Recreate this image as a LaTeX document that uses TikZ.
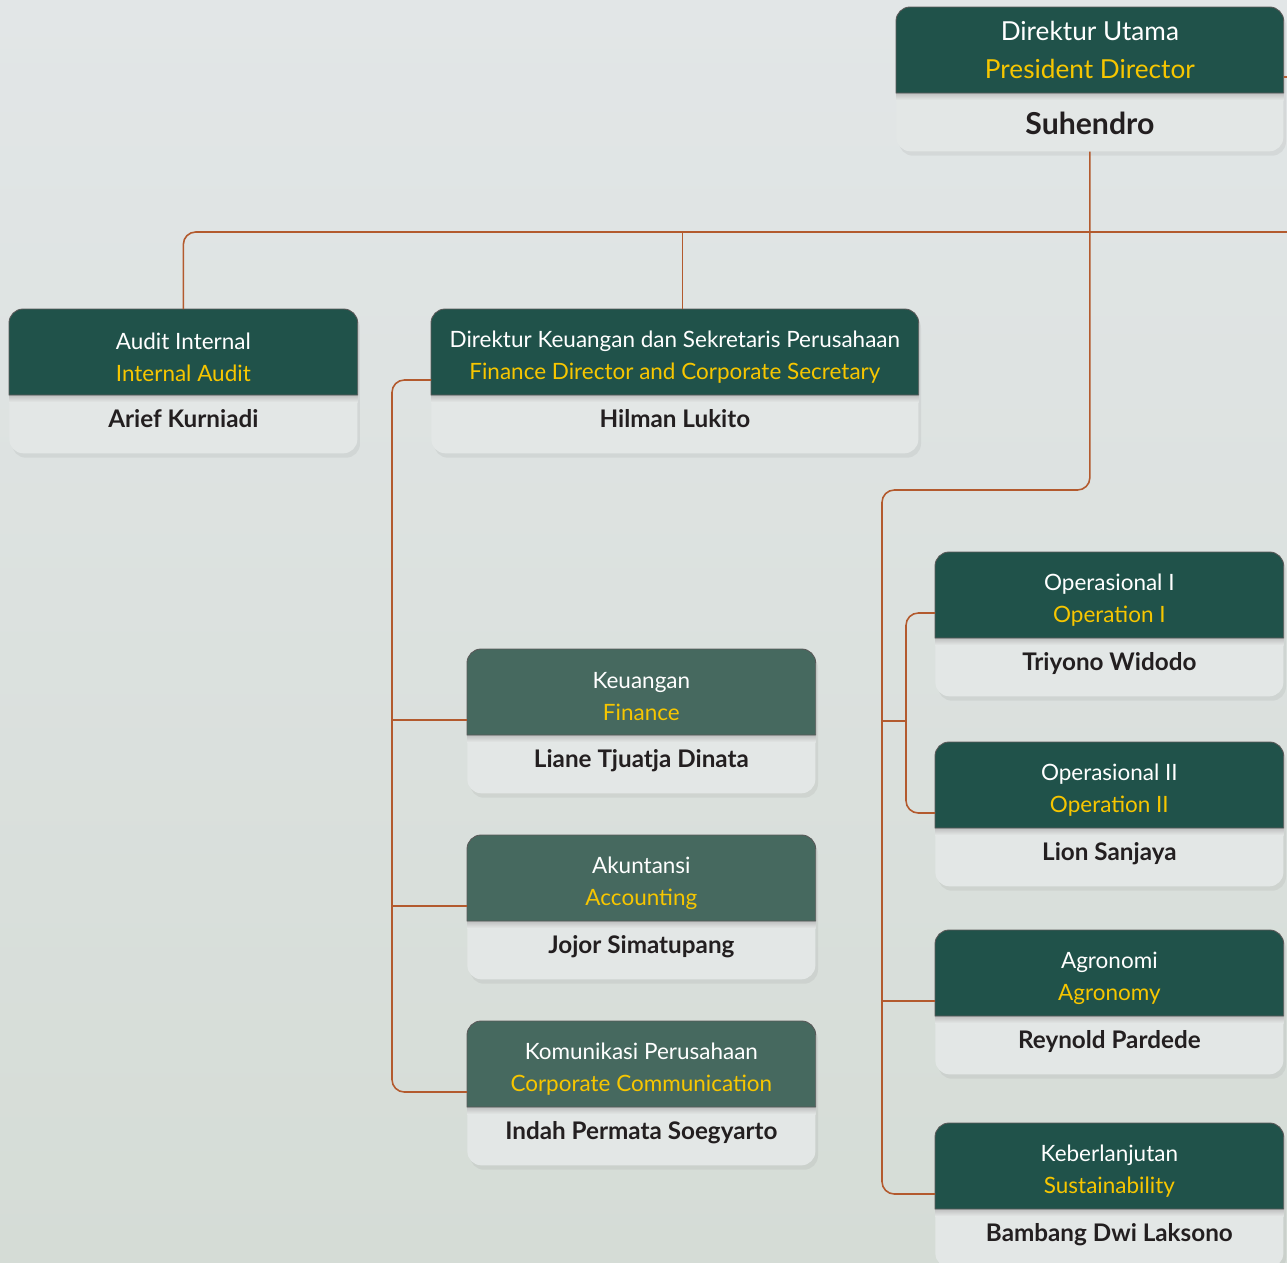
\documentclass[tikz,border=0pt]{standalone}
\usepackage{fontspec}
\setmainfont{Lato}
\usetikzlibrary{calc,shadows}
\definecolor{hdrdark}{HTML}{20524A}
\definecolor{hdrsoft}{HTML}{46695F}
\definecolor{ylw}{HTML}{F7C600}
\definecolor{cbody}{HTML}{E3E7E6}
\definecolor{cname}{HTML}{231F20}
\definecolor{clink}{HTML}{B35A2E}
\definecolor{bgtop}{HTML}{E2E6E7}
\definecolor{bgbot}{HTML}{D5DCD6}
\newcommand{\ttloff}{48}
\newcommand{\whooff}{112}
\newcommand{\orgcard}[8]{%
  \node[card, minimum width=#4*0.02cm] (#1) at (#2,#3) {};
  \shade[sep] ($(#1.north west)+(0,86)$) rectangle ($(#1.north east)+(0,93)$);
  \path[hdr=#5] ($(#1.north west)+(0,86)$) [rounded corners=8pt] -- (#1.north west)
    -- (#1.north east) [sharp corners] -- ($(#1.north east)+(0,86)$) -- cycle;
  \node[ttl] (#1-t) at ($(#1.north)+(0,\ttloff)$) {#6\\\textcolor{ylw}{#7}};
  \node[who] (#1-n) at ($(#1.north)+(0,\whooff)$) {#8};
  \coordinate (#1-in) at ($(#1.north west)+(0,71)$);}
\tikzset{
  card/.style={anchor=north west, fill=cbody, rounded corners=8pt, minimum height=2.88cm,
    inner sep=0pt, drop shadow={opacity=0.12, shadow xshift=1.5pt, shadow yshift=-2.5pt}},
  hdr/.style={fill=#1, draw=black!65, line width=0.5pt},
  sep/.style={top color=black!25, bottom color=cbody},
  ttl/.style={text=white, align=center, font=\fontsize{12.8}{18.2}\selectfont},
  who/.style={text=cname, text height=0.72em, text depth=0pt, font=\fontsize{13.8}{15}\selectfont\bfseries},
  link/.style={draw=clink, line width=0.9pt, rounded corners=7pt},
}

\begin{document}
\begin{tikzpicture}[x=0.02cm, y=-0.02cm]
\useasboundingbox (0,0) rectangle (1287,1262);
\shade[top color=bgtop, bottom color=bgbot] (0,0) rectangle (1287,1262);
%---- top
\begin{scope}[ttl/.append style={font=\fontsize{14.9}{21.5}\selectfont},
              who/.append style={font=\fontsize{17.2}{19}\selectfont\bfseries}]
  \renewcommand{\ttloff}{43}\renewcommand{\whooff}{121}
  \orgcard{pres}{896}{7}{387}{hdrdark}{Direktur Utama}{President Director}{Suhendro}
\end{scope}
%---- second row
\orgcard{audit}{9}{309}{348}{hdrdark}{Audit Internal}{Internal Audit}{Arief Kurniadi}
\orgcard{fin}{431}{309}{487}{hdrdark}{Direktur Keuangan dan Sekretaris Perusahaan}{Finance Director and Corporate Secretary}{Hilman Lukito}
%---- finance column
\orgcard{keu}{467}{649}{348}{hdrsoft}{Keuangan}{Finance}{Liane Tjuatja Dinata}
\orgcard{akt}{467}{835}{348}{hdrsoft}{Akuntansi}{Accounting}{Jojor Simatupang}
\orgcard{kom}{467}{1021}{348}{hdrsoft}{Komunikasi Perusahaan}{Corporate Communication}{Indah Permata Soegyarto}
%---- operations column
\orgcard{op1}{935}{552}{348}{hdrdark}{Operasional I}{Operation I}{Triyono Widodo}
\orgcard{op2}{935}{742}{348}{hdrdark}{Operasional II}{Operation II}{Lion Sanjaya}
\orgcard{agr}{935}{930}{348}{hdrdark}{Agronomi}{Agronomy}{Reynold Pardede}
\orgcard{keb}{935}{1123}{348}{hdrdark}{Keberlanjutan}{Sustainability}{Bambang Dwi Laksono}
%---- links
\coordinate (busend) at (1287,232);
\coordinate (presout) at (1287,77);
\coordinate (rspine) at (882,490);
\coordinate (ospine) at (906,721);
\coordinate (lspine) at (392,720);
\coordinate (fin-top) at ($(fin.north)+(7.5,0)$);
\coordinate (op1-in) at ($(op1.north west)+(0,61)$);
\draw[link] (audit.north) |- (busend);
\draw[link] (fin-top) -- (fin-top |- busend);
\draw[link] (pres.east |- presout) -- (presout);
\draw[link] (pres.south) |- (rspine) |- (keb-in);
\draw[link] (agr-in) -- (agr-in -| rspine);
\draw[link] (ospine -| rspine) -- (ospine);
\draw[link] (op1-in) -| (ospine) |- (op2-in);
\draw[link] (fin-in) -| (lspine) |- (kom-in);
\draw[link] (keu-in) -- (keu-in -| lspine);
\draw[link] (akt-in) -- (akt-in -| lspine);
\end{tikzpicture}
\end{document}
